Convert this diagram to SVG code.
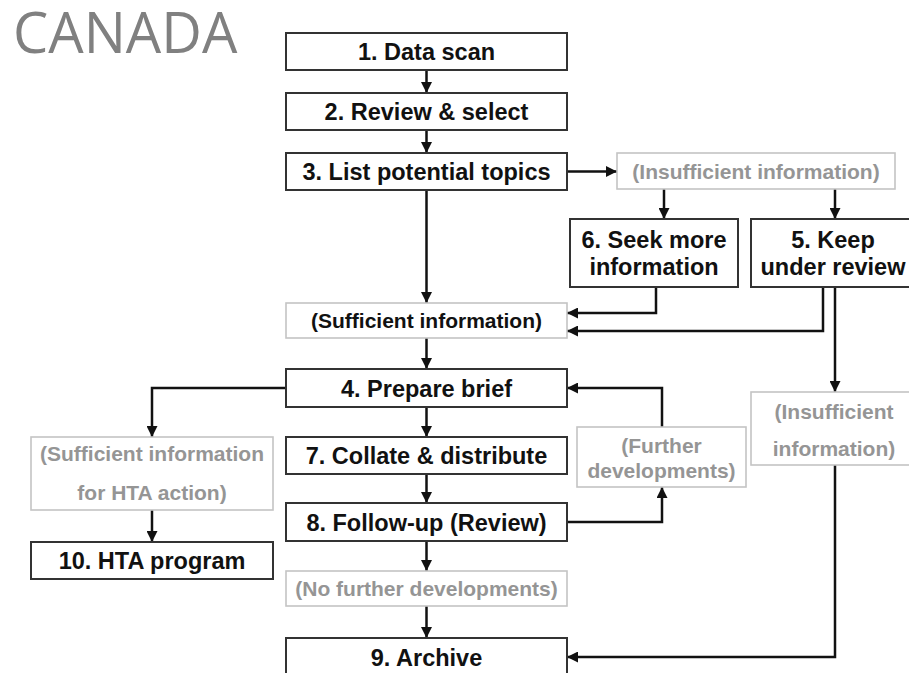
<svg xmlns="http://www.w3.org/2000/svg" width="909" height="673" viewBox="0 0 909 673">
<defs>
<marker id="ah" viewBox="0 0 10 10" refX="10" refY="5" markerWidth="11" markerHeight="11" markerUnits="userSpaceOnUse" orient="auto">
<path d="M0,0 L10,5 L0,10 z" fill="#111"/>
</marker>
<style>
.box{fill:#fff;stroke:#333;stroke-width:2}
.gbox{fill:#fff;stroke:#c4c4c4;stroke-width:1.6}
.t{font-family:"Liberation Sans",Arial,sans-serif;font-weight:bold;font-size:23.5px;fill:#111;text-anchor:middle}
.s{font-family:"Liberation Sans",Arial,sans-serif;font-weight:bold;font-size:21px;fill:#111;text-anchor:middle}
.g{font-family:"Liberation Sans",Arial,sans-serif;font-weight:bold;font-size:21px;fill:#959595;text-anchor:middle}
.c{fill:none;stroke:#111;stroke-width:2.5;marker-end:url(#ah)}
</style>
</defs>
<rect width="909" height="673" fill="#fff"/>
<text x="13" y="53" font-family="'Open Sans',sans-serif" font-size="56" fill="#808080">CANADA</text>

<g id="connectors">
<path class="c" d="M426.5,70 V93"/>
<path class="c" d="M426.5,130 V153"/>
<path class="c" d="M567,171.5 H617"/>
<path class="c" d="M664,189 V219"/>
<path class="c" d="M835,189 V219"/>
<path class="c" d="M426.5,190 V303"/>
<path class="c" d="M656,287 V313 H567"/>
<path class="c" d="M823,287 V331 H567"/>
<path class="c" d="M835,287 V392"/>
<path class="c" d="M426.5,338 V369"/>
<path class="c" d="M286,388 H152 V437"/>
<path class="c" d="M152,510 V542"/>
<path class="c" d="M426.5,407 V437"/>
<path class="c" d="M426.5,474 V503"/>
<path class="c" d="M567,522 H662 V487"/>
<path class="c" d="M662,427 V388 H567"/>
<path class="c" d="M426.5,541 V571"/>
<path class="c" d="M426.5,606 V638"/>
<path class="c" d="M835,465 V657 H567"/>
</g>

<g id="n1"><rect class="box" x="286" y="33" width="281" height="37"/><text class="t" x="426.5" y="60">1. Data scan</text></g>
<g id="n2"><rect class="box" x="286" y="93" width="281" height="37"/><text class="t" x="426.5" y="120">2. Review &amp; select</text></g>
<g id="n3"><rect class="box" x="286" y="153" width="281" height="37"/><text class="t" x="426.5" y="180">3. List potential topics</text></g>
<g id="insuf1"><rect class="gbox" x="617" y="153" width="278" height="36"/><text class="g" x="756" y="178.5">(Insufficient information)</text></g>
<g id="n6"><rect class="box" x="570" y="219" width="168" height="68"/><text class="t" x="654" y="248">6. Seek more</text><text class="t" x="654" y="275">information</text></g>
<g id="n5"><rect class="box" x="751" y="219" width="170" height="68"/><text class="t" x="833" y="248">5. Keep</text><text class="t" x="833" y="275">under review</text></g>
<g id="suf1"><rect class="gbox" x="286" y="303" width="281" height="35"/><text class="s" x="426.5" y="328">(Sufficient information)</text></g>
<g id="n4"><rect class="box" x="286" y="369" width="281" height="38"/><text class="t" x="426.5" y="396.5">4. Prepare brief</text></g>
<g id="suf2"><rect class="gbox" x="31" y="437" width="242" height="73"/><text class="g" x="152" y="460.5">(Sufficient information</text><text class="g" x="152" y="499.5">for HTA action)</text></g>
<g id="n10"><rect class="box" x="31" y="542" width="242" height="37"/><text class="t" x="152" y="569">10. HTA program</text></g>
<g id="n7"><rect class="box" x="286" y="437" width="281" height="37"/><text class="t" x="426.5" y="464">7. Collate &amp; distribute</text></g>
<g id="further"><rect class="gbox" x="577" y="427" width="169" height="60"/><text class="g" x="661.5" y="452.5">(Further</text><text class="g" x="661.5" y="477.5">developments)</text></g>
<g id="insuf2"><rect class="gbox" x="751" y="392" width="170" height="73"/><text class="g" x="834" y="418.5">(Insufficient</text><text class="g" x="834" y="455.5">information)</text></g>
<g id="n8"><rect class="box" x="286" y="503" width="281" height="38"/><text class="t" x="426.5" y="530.5">8. Follow-up (Review)</text></g>
<g id="nofurther"><rect class="gbox" x="286" y="571" width="281" height="35"/><text class="g" x="426.5" y="596">(No further developments)</text></g>
<g id="n9"><rect class="box" x="286" y="638" width="281" height="40"/><text class="t" x="426.5" y="665.5">9. Archive</text></g>
</svg>
